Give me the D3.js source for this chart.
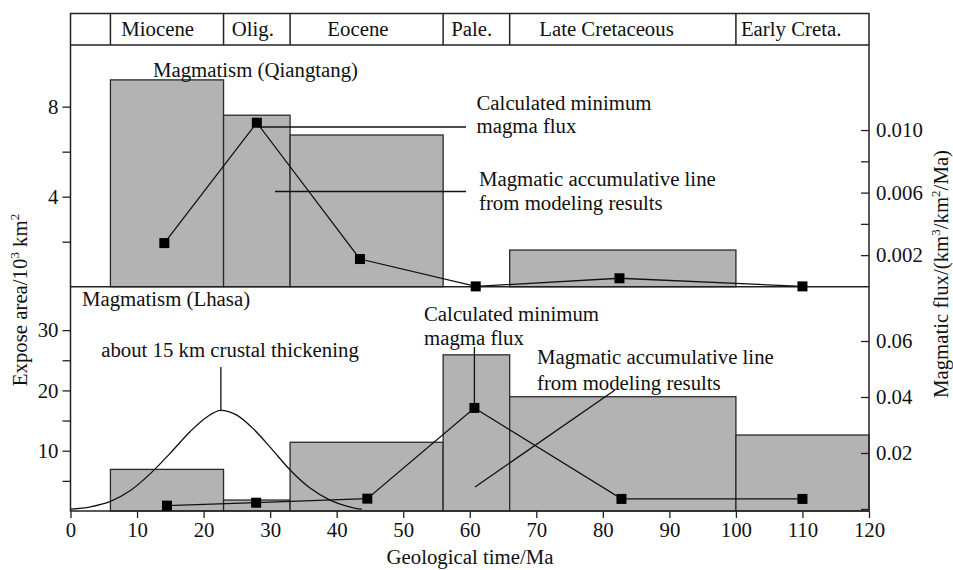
<!DOCTYPE html>
<html>
<head>
<meta charset="utf-8">
<script src="https://cdn.jsdelivr.net/npm/d3@7"></script>
</head>
<body style="margin:0">
<svg id="chart" width="953" height="570"></svg>
<script>
// ---------------- DATA ----------------
const epochNames  = ["", "Miocene", "Olig.", "Eocene", "Pale.", "Late Cretaceous", "Early Creta."];
const epochStarts = [0, 6, 23, 33, 56, 66, 100];
const epochEnds   = [6, 23, 33, 56, 66, 100, 120];

// Qiangtang exposed area (10^3 km^2) per interval
const qtStarts = [6, 23, 33, 66];
const qtEnds   = [23, 33, 56, 100];
const qtArea   = [9.19, 7.62, 6.74, 1.63];
// Qiangtang calculated minimum magma flux (km3/km2/Ma)
const qtFluxAge = [14.1, 28.0, 43.5, 60.9, 82.5, 110.0];
const qtFlux    = [0.00277, 0.01047, 0.00175, 0.0, 0.00052, 0.0];

// Lhasa exposed area (10^3 km^2) per interval
const lsStarts = [6, 23, 33, 56, 66, 100];
const lsEnds   = [23, 33, 56, 66, 100, 120];
const lsArea   = [6.9, 1.82, 11.4, 25.9, 18.95, 12.6];
// Lhasa calculated minimum magma flux
const lsFluxAge = [14.5, 27.9, 44.6, 60.7, 82.8, 110.0];
const lsFlux    = [0.0012, 0.00225, 0.0037, 0.0361, 0.0036, 0.0036];

// crustal thickening curve (left axis units)
const thickAge = [0, 3, 6, 9, 12, 15, 18, 20.5, 22.6, 25, 27.5, 30, 33, 36, 39, 41.5, 43, 43.8];
const thickVal = [0.3, 0.7, 1.6, 3.4, 6.2, 9.6, 13.2, 15.6, 16.7, 15.9, 13.6, 10.6, 6.8, 3.8, 1.8, 0.8, 0.4, 0.3];

// tick values
const xTicks      = [0, 10, 20, 30, 40, 50, 60, 70, 80, 90, 100, 110, 120];
const topLTicks   = [2, 4, 6, 8];
const topLLabels  = [4, 8];
const topRTicks   = [0.002, 0.004, 0.006, 0.008, 0.010];
const topRLabels  = [0.002, 0.006, 0.010];
const botLTicks   = [5, 10, 15, 20, 25, 30];
const botLLabels  = [10, 20, 30];
const botRTicks   = [0, 0.02, 0.04, 0.06];
const botRLabels  = [0.02, 0.04, 0.06];

// ---------------- LAYOUT ----------------
const FONT = "'Liberation Serif', serif";
const L = 70.5, R = 869, headTop = 13.5, headBot = 45, mid = 286.7, bot = 511;
const FS = "20.8px";
const epochLabelCenters = [null, 13.1, 27.4, 43.2, 60.3, 80.55, 108.3];

const svg = d3.select("#chart");
const x = d3.scaleLinear().domain([0, 120]).range([L, R]);
const yTopL = d3.scaleLinear().domain([0, 10.74]).range([mid, headBot]);
const yTopR = d3.scaleLinear().domain([0, 0.01544]).range([286.4, headBot]);
const yBotL = d3.scaleLinear().domain([0, 37.2]).range([bot, mid]);
const yBotR = d3.scaleLinear().domain([0, 0.0794]).range([509, mid]);

const BAR_FILL = "#b3b3b3", BAR_STROKE = "#2a2a2a", INK = "#111";

function T(sel) {
  sel.attr("font-family", null).style("font-family", FONT).style("font-size", FS).attr("fill", INK);
}

// ---------- bars ----------
const qt = qtArea.map((v, i) => ({s: qtStarts[i], e: qtEnds[i], v}));
svg.append("g").selectAll("rect").data(qt).join("rect")
  .attr("x", d => x(d.s)).attr("width", d => x(d.e) - x(d.s))
  .attr("y", d => yTopL(d.v)).attr("height", d => yTopL(0) - yTopL(d.v))
  .attr("fill", BAR_FILL).attr("stroke", BAR_STROKE).attr("stroke-width", 1.3);

const ls = lsArea.map((v, i) => ({s: lsStarts[i], e: lsEnds[i], v}));
svg.append("g").selectAll("rect").data(ls).join("rect")
  .attr("x", d => x(d.s)).attr("width", d => x(d.e) - x(d.s))
  .attr("y", d => yBotL(d.v)).attr("height", d => yBotL(0) - yBotL(d.v))
  .attr("fill", BAR_FILL).attr("stroke", BAR_STROKE).attr("stroke-width", 1.3);

// ---------- frame & header ----------
const frame = svg.append("g").attr("fill", "none").attr("stroke", "#222").attr("stroke-width", 1.5);
frame.append("rect").attr("x", L).attr("y", headTop).attr("width", R - L).attr("height", bot - headTop);
frame.append("line").attr("x1", L).attr("x2", R).attr("y1", headBot).attr("y2", headBot);
frame.append("line").attr("x1", L).attr("x2", R).attr("y1", mid).attr("y2", mid);
frame.selectAll("line.ep").data(epochStarts.slice(1)).join("line").attr("class", "ep")
  .attr("x1", d => x(d)).attr("x2", d => x(d)).attr("y1", headTop).attr("y2", headBot);

const epochs = epochNames.map((n, i) => ({n, c: epochLabelCenters[i]})).filter(d => d.n !== "");
svg.append("g").selectAll("text").data(epochs).join("text")
  .attr("x", d => x(d.c)).attr("y", 36).attr("text-anchor", "middle")
  .call(T).text(d => d.n);

// ---------- axes ----------
function styleAxis(g) {
  g.attr("font-family", null).attr("font-size", null);
  g.select(".domain").remove();
  g.selectAll(".tick line").attr("stroke", "#222").attr("stroke-width", 1.3);
  g.selectAll(".tick text").call(T);
}
svg.append("g").attr("transform", `translate(0,${bot})`)
  .call(d3.axisBottom(x).tickValues(xTicks).tickSize(7).tickPadding(4).tickFormat(d3.format("d")))
  .call(styleAxis);

svg.append("g").attr("transform", `translate(${L},0)`)
  .call(d3.axisLeft(yTopL).tickValues(topLTicks).tickSize(8).tickPadding(4)
    .tickFormat(d => topLLabels.includes(d) ? d : ""))
  .call(styleAxis);
svg.append("g").attr("transform", `translate(${L},0)`)
  .call(d3.axisLeft(yBotL).tickValues(botLTicks).tickSize(8).tickPadding(4)
    .tickFormat(d => botLLabels.includes(d) ? d : ""))
  .call(styleAxis);

svg.append("g").attr("transform", `translate(${R},0)`)
  .call(d3.axisRight(yTopR).tickValues(topRTicks).tickSizeInner(-8).tickSizeOuter(0).tickPadding(7)
    .tickFormat(d => topRLabels.some(v => Math.abs(v - d) < 1e-9) ? d3.format(".3f")(d) : ""))
  .call(styleAxis);
svg.append("g").attr("transform", `translate(${R},0)`)
  .call(d3.axisRight(yBotR).tickValues(botRTicks).tickSizeInner(-8).tickSizeOuter(0).tickPadding(7)
    .tickFormat(d => botRLabels.some(v => Math.abs(v - d) < 1e-9) ? d3.format(".2f")(d) : ""))
  .call(styleAxis);

// axis titles
svg.append("text").attr("transform", "translate(27,300) rotate(-90)")
  .attr("text-anchor", "middle").call(T)
  .html('Expose area/10<tspan dy="-8" style="font-size:13px">3</tspan><tspan dy="8"> km</tspan><tspan dy="-8" style="font-size:13px">2</tspan>');
svg.append("text").attr("transform", "translate(948,274) rotate(-90)")
  .attr("text-anchor", "middle").call(T)
  .html('Magmatic flux/(km<tspan dy="-8" style="font-size:13px">3</tspan><tspan dy="8">/km</tspan><tspan dy="-8" style="font-size:13px">2</tspan><tspan dy="8">/Ma)</tspan>');
svg.append("text").attr("x", 470).attr("y", 564).attr("text-anchor", "middle")
  .call(T).text("Geological time/Ma");

// ---------- thickening curve ----------
const thick = thickAge.map((a, i) => [a, thickVal[i]]);
svg.append("path").datum(thick)
  .attr("d", d3.line().x(d => x(d[0])).y(d => yBotL(d[1])).curve(d3.curveMonotoneX))
  .attr("fill", "none").attr("stroke", INK).attr("stroke-width", 1.3);

// ---------- flux lines ----------
function fluxSeries(ages, vals, ys) {
  const pts = ages.map((a, i) => [a, vals[i]]);
  const g = svg.append("g");
  g.append("path").datum(pts)
    .attr("d", d3.line().x(d => x(d[0])).y(d => ys(d[1])))
    .attr("fill", "none").attr("stroke", INK).attr("stroke-width", 1.3);
  g.selectAll("rect").data(pts).join("rect")
    .attr("x", d => x(d[0]) - 5).attr("y", d => ys(d[1]) - 5)
    .attr("width", 10).attr("height", 10).attr("fill", "#000");
}
fluxSeries(qtFluxAge, qtFlux, yTopR);
fluxSeries(lsFluxAge, lsFlux, yBotR);

// ---------- annotations ----------
const ann = svg.append("g");
function txt(xp, yp, s, anchor) {
  ann.append("text").attr("x", xp).attr("y", yp).attr("text-anchor", anchor || "start")
    .call(T).text(s);
}
function seg(x1, y1, x2, y2) {
  ann.append("line").attr("x1", x1).attr("y1", y1).attr("x2", x2).attr("y2", y2)
    .attr("stroke", INK).attr("stroke-width", 1.3);
}
txt(153, 77, "Magmatism (Qiangtang)");
txt(476.5, 109.5, "Calculated minimum");
txt(476.5, 133, "magma flux");
seg(x(qtFluxAge[1]), 127, 466, 127);
txt(479, 186, "Magmatic accumulative line");
txt(479, 209.5, "from modeling results");
seg(275, 191.5, 466, 191.5);

txt(82, 306, "Magmatism (Lhasa)");
txt(230, 357, "about 15 km crustal thickening", "middle");
seg(x(22.6), 367, x(22.6), yBotL(16.7));
txt(424, 321, "Calculated minimum");
txt(424, 345, "magma flux");
seg(x(lsFluxAge[3]), 347, x(lsFluxAge[3]), yBotR(lsFlux[3]));
txt(537, 364, "Magmatic accumulative line");
txt(537, 390, "from modeling results");
seg(475, 487, 615, 390);
</script>
</body>
</html>
